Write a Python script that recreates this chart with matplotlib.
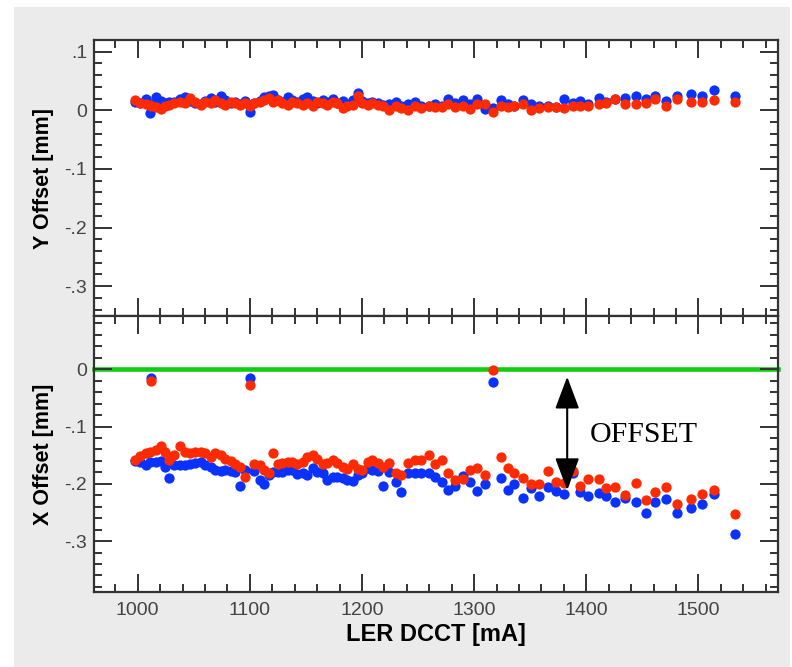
import matplotlib
matplotlib.use("Agg")
import matplotlib.pyplot as plt
from matplotlib.patches import Rectangle, FancyArrowPatch
from matplotlib.ticker import MultipleLocator, FuncFormatter

# LER beam current [mA]
current = [
    998, 1002, 1007, 1011, 1012, 1016, 1021, 1024, 1028, 1032,
    1038, 1042, 1047, 1051, 1056, 1060, 1065, 1069, 1074, 1078,
    1083, 1087, 1091, 1096, 1100, 1104, 1109, 1113, 1117, 1121,
    1125, 1129, 1134, 1138, 1142, 1147, 1151, 1156, 1160, 1165,
    1169, 1174, 1178, 1183, 1187, 1192, 1196, 1200, 1205, 1209,
    1214, 1219, 1224, 1230, 1235, 1241, 1247, 1253, 1260, 1265,
    1271, 1277, 1283, 1290, 1296, 1303, 1310, 1317, 1324, 1330,
    1336, 1344, 1351, 1358, 1366, 1373, 1380, 1388, 1394, 1402,
    1411, 1418, 1426, 1435, 1444, 1453, 1461, 1471, 1481, 1493,
    1503, 1514, 1533]

# vertical offset [mm]
y_off_blue = [
    0.014, 0.012, 0.020, -0.004, 0.010, 0.022, 0.016, 0.012, 0.015, 0.014,
    0.020, 0.022, 0.016, 0.012, 0.010, 0.016, 0.021, 0.014, 0.024, 0.018,
    0.012, 0.014, 0.010, 0.016, -0.002, 0.012, 0.016, 0.022, 0.024, 0.026,
    0.018, 0.014, 0.022, 0.018, 0.015, 0.020, 0.022, 0.016, 0.012, 0.018,
    0.014, 0.020, 0.012, 0.016, 0.010, 0.018, 0.030, 0.016, 0.012, 0.014,
    0.012, 0.009, 0.010, 0.015, 0.008, 0.011, 0.015, 0.008, 0.008, 0.010,
    0.008, 0.019, 0.013, 0.017, 0.010, 0.019, 0.002, 0.004, 0.018, 0.011,
    0.008, 0.018, 0.011, 0.008, 0.008, 0.006, 0.020, 0.013, 0.016, 0.010,
    0.021, 0.015, 0.020, 0.021, 0.024, 0.020, 0.025, 0.016, 0.025, 0.028,
    0.024, 0.034, 0.024]
y_off_red = [
    0.018, 0.012, 0.010, 0.009, 0.007, 0.006, 0.002, 0.007, 0.009, 0.012,
    0.015, 0.012, 0.021, 0.015, 0.009, 0.015, 0.012, 0.018, 0.012, 0.009,
    0.015, 0.012, 0.009, 0.012, 0.007, 0.012, 0.015, 0.018, 0.021, 0.015,
    0.018, 0.012, 0.009, 0.015, 0.012, 0.009, 0.012, 0.007, 0.015, 0.012,
    0.009, 0.015, 0.012, 0.004, 0.007, 0.009, 0.024, 0.012, 0.009, 0.012,
    0.009, 0.007, 0.001, 0.007, 0.004, 0.001, 0.008, 0.004, 0.007, 0.006,
    0.006, 0.010, 0.006, 0.008, 0.002, 0.011, 0.011, -0.002, 0.007, 0.006,
    0.008, 0.010, 0.001, 0.004, 0.006, 0.006, 0.004, 0.008, 0.008, 0.008,
    0.010, 0.012, 0.020, 0.010, 0.010, 0.012, 0.019, 0.007, 0.019, 0.015,
    0.015, 0.018, 0.015]

# horizontal offset [mm]
x_off_blue = [
    -0.160, -0.162, -0.168, -0.162, -0.015, -0.162, -0.160, -0.171, -0.189, -0.168,
    -0.168, -0.167, -0.165, -0.163, -0.162, -0.168, -0.171, -0.176, -0.178, -0.176,
    -0.178, -0.180, -0.204, -0.176, -0.015, -0.177, -0.193, -0.201, -0.185, -0.179,
    -0.179, -0.179, -0.176, -0.176, -0.183, -0.182, -0.185, -0.173, -0.179, -0.182,
    -0.193, -0.188, -0.188, -0.189, -0.194, -0.195, -0.185, -0.182, -0.173, -0.176,
    -0.178, -0.204, -0.179, -0.197, -0.215, -0.182, -0.181, -0.182, -0.181, -0.188,
    -0.197, -0.211, -0.203, -0.187, -0.197, -0.213, -0.200, -0.023, -0.189, -0.210,
    -0.200, -0.224, -0.208, -0.221, -0.206, -0.213, -0.217, -0.181, -0.214, -0.222,
    -0.216, -0.222, -0.231, -0.225, -0.232, -0.251, -0.231, -0.226, -0.251, -0.243,
    -0.235, -0.218, -0.287]
x_off_red = [
    -0.158, -0.152, -0.147, -0.145, -0.020, -0.141, -0.134, -0.144, -0.158, -0.150,
    -0.134, -0.144, -0.147, -0.145, -0.144, -0.147, -0.153, -0.147, -0.150, -0.156,
    -0.160, -0.165, -0.170, -0.188, -0.027, -0.165, -0.168, -0.176, -0.181, -0.147,
    -0.165, -0.164, -0.162, -0.162, -0.165, -0.162, -0.154, -0.150, -0.156, -0.165,
    -0.164, -0.158, -0.164, -0.171, -0.174, -0.165, -0.175, -0.176, -0.162, -0.158,
    -0.164, -0.171, -0.164, -0.182, -0.185, -0.164, -0.158, -0.159, -0.150, -0.165,
    -0.158, -0.182, -0.193, -0.191, -0.176, -0.172, -0.185, -0.002, -0.154, -0.173,
    -0.181, -0.190, -0.200, -0.201, -0.178, -0.197, -0.199, -0.178, -0.203, -0.192,
    -0.192, -0.208, -0.206, -0.220, -0.198, -0.229, -0.214, -0.206, -0.235, -0.226,
    -0.217, -0.211, -0.253]

# arrow between the reference line and the orbit
offset_x = 1383
offset_top = -0.013
offset_bottom = -0.211

BLUE = "#0a32ff"
RED = "#ff2a00"
GREEN = "#11cc11"
FRAME = "#333333"

plt.rcParams["font.family"] = ["Liberation Sans", "DejaVu Sans"]

fig = plt.figure(figsize=(7.92, 6.67), dpi=100)
fig.patch.set_facecolor("white")
fig.patches.append(Rectangle((14 / 792, 0), 776 / 792, 660 / 667,
                             transform=fig.transFigure, facecolor="#ebebeb",
                             edgecolor="none", zorder=-10))

ax_y = fig.add_axes([0.1187, 0.5262, 0.8636, 0.4138])
ax_x = fig.add_axes([0.1187, 0.1124, 0.8636, 0.4138], sharex=ax_y)


def short_label(v, pos):
    if abs(v) < 1e-9:
        return "0"
    s = "%.1f" % v
    return s.replace("0.", ".")


for ax in (ax_y, ax_x):
    ax.set_facecolor("white")
    for sp in ax.spines.values():
        sp.set_linewidth(1.6)
        sp.set_color(FRAME)
    ax.xaxis.set_major_locator(MultipleLocator(100))
    ax.xaxis.set_minor_locator(MultipleLocator(20))
    ax.yaxis.set_major_locator(MultipleLocator(0.1))
    ax.yaxis.set_minor_locator(MultipleLocator(0.02))
    ax.yaxis.set_major_formatter(FuncFormatter(short_label))
    ax.tick_params(which="both", direction="in", top=True, right=True,
                   color=FRAME, width=1.4)
    ax.tick_params(which="major", length=13, labelsize=14, labelcolor="#444444")
    ax.tick_params(which="minor", length=5.5)
    ax.tick_params(axis="y", pad=5)
    ax.tick_params(axis="x", pad=7)

ax_y.set_xlim(961, 1571)
ax_y.set_ylim(-0.351, 0.12)
ax_x.set_ylim(-0.389, 0.093)
ax_y.tick_params(labelbottom=False)

ms = 7.4
ax_y.plot(current, y_off_blue, "o", color=BLUE, ms=ms, mew=0)
ax_y.plot(current, y_off_red, "o", color=RED, ms=ms, mew=0)

ax_x.axhline(0, color=GREEN, lw=3.3, clip_on=False,
             solid_capstyle="projecting", zorder=1)
ax_x.plot(current, x_off_blue, "o", color=BLUE, ms=ms, mew=0, zorder=2)
ax_x.plot(current, x_off_red, "o", color=RED, ms=ms, mew=0, zorder=3)

arrow = FancyArrowPatch((offset_x, offset_top), (offset_x, offset_bottom),
                        arrowstyle="<|-|>,head_length=20,head_width=7.5",
                        mutation_scale=1, shrinkA=0, shrinkB=0,
                        color="black", lw=1.5, zorder=5)
ax_x.add_patch(arrow)
ax_x.text(1403, -0.115, "OFFSET", fontsize=21.5, va="center", ha="left",
          family=["Liberation Serif", "DejaVu Serif"], color="black")

ax_y.set_ylabel("Y Offset [mm]", fontsize=15.5, fontweight="bold")
ax_x.set_ylabel("X Offset [mm]", fontsize=15.5, fontweight="bold")
ax_x.set_xlabel("LER DCCT [mA]", fontsize=17, fontweight="bold", labelpad=3)
ax_y.yaxis.set_label_coords(-0.058, 0.5)
ax_x.yaxis.set_label_coords(-0.058, 0.5)

fig.savefig("out.png", dpi=100)
